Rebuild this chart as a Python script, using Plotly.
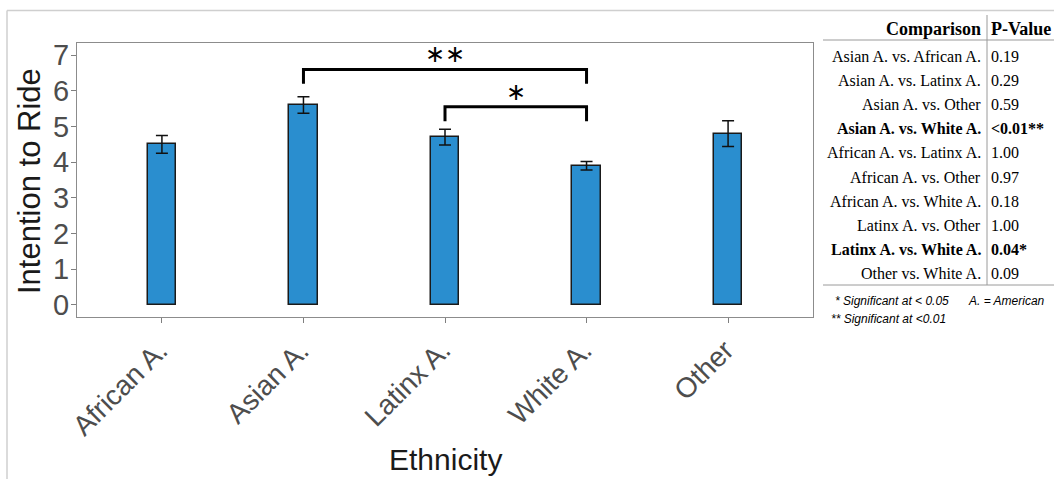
import plotly.graph_objects as go

# Mean intention-to-ride scores by ethnicity, with standard errors
categories = ["African A.", "Asian A.", "Latinx A.", "White A.", "Other"]
means = [4.5, 5.6, 4.7, 3.9, 4.8]
errors = [0.25, 0.23, 0.22, 0.12, 0.36]

# Pairwise comparisons (Tukey post-hoc)
comparisons = [
    "Asian A. vs. African A.", "Asian A. vs. Latinx A.", "Asian A. vs. Other",
    "Asian A. vs. White A.", "African A. vs. Latinx A.", "African A. vs. Other",
    "African A. vs. White A.", "Latinx A. vs. Other", "Latinx A. vs. White A.",
    "Other vs. White A.",
]
p_values = ["0.19", "0.29", "0.59", "<0.01**", "1.00", "0.97", "0.18", "1.00", "0.04*", "0.09"]
significant = [False, False, False, True, False, False, False, False, True, False]

# Significance brackets: (left group, right group, bracket height, leg bottom, star y, label)
brackets = [
    ("Asian A.", "White A.", 6.6, 6.2, 7.03, "∗∗"),
    ("Latinx A.", "White A.", 5.55, 5.15, 5.96, "∗"),
]

W, H = 1054, 479
ML, MR, MT, MB = 77, 241, 43, 162
PW, PH = W - ML - MR, H - MT - MB


def px(x):
    return (x - ML) / PW


def py(y):
    return (H - MB - y) / PH


xpos = list(range(len(categories)))

fig = go.Figure()
fig.add_trace(go.Bar(
    x=xpos, y=means, width=0.2,
    marker=dict(color="#2a8ecf", line=dict(color="#1a1a1a", width=1.5)),
    error_y=dict(type="data", array=errors, color="#111111", thickness=1.5, width=6),
    showlegend=False,
))

idx = {c: i for i, c in enumerate(categories)}
for left, right, top, leg, star_y, label in brackets:
    xl, xr = idx[left], idx[right]
    fig.add_trace(go.Scatter(
        x=[xl, xl, xr, xr], y=[leg, top, top, leg], mode="lines",
        line=dict(color="black", width=3), showlegend=False, hoverinfo="skip",
    ))
    fig.add_annotation(x=(xl + xr) / 2, y=star_y, text=label, showarrow=False,
                       xanchor="center", yanchor="middle",
                       font=dict(family="DejaVu Sans", size=24, color="black"),
                       xref="x", yref="y")

# Rotated category labels, ending just right of each tick
for i, cat in enumerate(categories):
    fig.add_annotation(x=i, y=py(332), xref="x", yref="paper", text=cat,
                       xanchor="right", yanchor="top", xshift=14, textangle=-45,
                       showarrow=False,
                       font=dict(family="Liberation Sans", size=28, color="#4d4d4d"))

fig.update_xaxes(
    range=[-0.6, 4.6], tickvals=xpos, showticklabels=False,
    ticks="outside", ticklen=5, tickcolor="#7f7f7f",
    showline=True, linecolor="#8c8c8c", mirror=True, linewidth=1,
    showgrid=False, zeroline=False,
)
fig.update_yaxes(
    range=[-0.34, 7.34], tickvals=list(range(8)),
    ticks="outside", ticklen=5, tickcolor="#7f7f7f", ticklabelstandoff=-4,
    tickfont=dict(family="Liberation Sans", size=29, color="#4d4d4d"),
    showline=True, linecolor="#8c8c8c", mirror=True, linewidth=1,
    showgrid=False, zeroline=False,
)

# Axis titles
fig.add_annotation(x=px(445), y=py(459), xref="paper", yref="paper", text="Ethnicity",
                   xanchor="center", yanchor="middle", showarrow=False,
                   font=dict(family="Liberation Sans", size=30, color="#1a1a1a"))
fig.add_annotation(x=px(30), y=py(181), xref="paper", yref="paper", text="Intention to Ride",
                   xanchor="center", yanchor="middle", textangle=-90, showarrow=False,
                   font=dict(family="Liberation Sans", size=31, color="#1a1a1a"))

# Comparison table
serif = "Liberation Serif"
fig.add_annotation(x=px(983), y=py(29), xref="paper", yref="paper", text="<b>Comparison</b>",
                   xanchor="right", yanchor="middle", showarrow=False,
                   font=dict(family=serif, size=18, color="black"))
fig.add_annotation(x=px(989), y=py(29), xref="paper", yref="paper", text="<b>P-Value</b>",
                   xanchor="left", yanchor="middle", showarrow=False,
                   font=dict(family=serif, size=18, color="black"))
row0, row_step = 56, 24.2
for i, (comp, pv, sig) in enumerate(zip(comparisons, p_values, significant)):
    yy = py(row0 + i * row_step)
    c_txt = f"<b>{comp}</b>" if sig else comp
    p_txt = f"<b>{pv}</b>" if sig else pv
    fig.add_annotation(x=px(983), y=yy, xref="paper", yref="paper", text=c_txt,
                       xanchor="right", yanchor="middle", showarrow=False,
                       font=dict(family=serif, size=16, color="black"))
    fig.add_annotation(x=px(989), y=yy, xref="paper", yref="paper", text=p_txt,
                       xanchor="left", yanchor="middle", showarrow=False,
                       font=dict(family=serif, size=16, color="black"))

foot = dict(family="Liberation Sans", size=12, color="black")
for txt, fx, fy in [("<i>* Significant at < 0.05</i>", 833, 301),
                    ("<i>** Significant at <0.01</i>", 829, 319),
                    ("<i>A. = American</i>", 966, 301)]:
    fig.add_annotation(x=px(fx), y=py(fy), xref="paper", yref="paper", text=txt,
                       xanchor="left", yanchor="middle", showarrow=False, font=foot)

# Table rules and page frame
line_gray = dict(color="#9a9a9a", width=1)
fig.add_shape(type="line", xref="paper", yref="paper", x0=px(823), x1=px(1054), y0=py(40), y1=py(40), line=line_gray)
fig.add_shape(type="line", xref="paper", yref="paper", x0=px(823), x1=px(1054), y0=py(285), y1=py(285), line=line_gray)
fig.add_shape(type="line", xref="paper", yref="paper", x0=px(987), x1=px(987), y0=py(15), y1=py(285), line=line_gray)
frame = dict(color="#cfcfcf", width=1.5)
fig.add_shape(type="line", xref="paper", yref="paper", x0=px(7), x1=px(1054), y0=py(10.5), y1=py(10.5), line=frame)
fig.add_shape(type="line", xref="paper", yref="paper", x0=px(7), x1=px(7), y0=py(10.5), y1=py(479), line=frame)

fig.update_layout(
    width=W, height=H,
    margin=dict(l=ML, r=MR, t=MT, b=MB, pad=0),
    plot_bgcolor="white", paper_bgcolor="white",
    bargap=0,
)

fig.write_html("out.html")
